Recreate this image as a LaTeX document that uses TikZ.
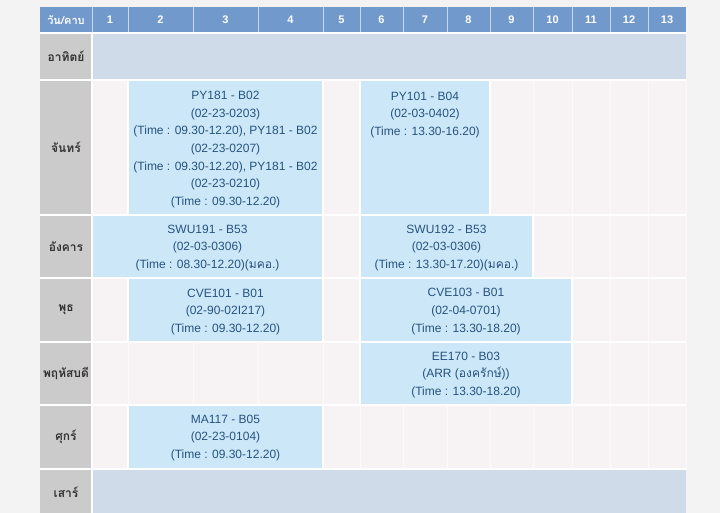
\documentclass[tikz,border=0pt]{standalone}
\usepackage{fontspec}
\setmainfont{Liberation Sans}
\newfontfamily\thai[Script=Thai]{Loma}
\definecolor{pagebg}{HTML}{F3F3F3}
\definecolor{cellbg}{HTML}{F7F3F5}
\definecolor{hdr}{HTML}{7199CB}
\definecolor{hdrline}{HTML}{C9D7EC}
\definecolor{daygray}{HTML}{CBCBCB}
\definecolor{weekend}{HTML}{CFDBE8}
\definecolor{block}{HTML}{CCE8F8}
\definecolor{blocktxt}{HTML}{27527F}
\definecolor{daytxt}{HTML}{333333}
\tikzset{
  hd/.style={text=white, font=\bfseries\fontsize{11}{13}\selectfont, inner sep=0pt},
  dayl/.style={text=daytxt, font=\thai\bfseries\fontsize{12}{14}\selectfont, inner sep=0pt},
  blk/.style={text=blocktxt, align=center, font=\fontsize{12}{17.7}\selectfont, inner sep=0pt},
  blockfill/.style={fill=block, draw=white, line width=1.2pt},
  gridline/.style={draw=white, line width=1.2pt},
  faint/.style={draw=white, draw opacity=0.5, line width=0.6pt}
}
\begin{document}
\begin{tikzpicture}[x=1pt,y=-1pt]
\useasboundingbox (0,0) rectangle (720,513);
\fill[pagebg] (0,0) rectangle (720,513);
% header
\fill[hdr] (40,7) rectangle (686,33);
\foreach \x in {92,128,193,258,323,360,403,447,490,533,572,610,648}
  \draw[hdrline, line width=0.9pt] (\x,7) -- (\x,33);
% day column
\fill[daygray] (40,33) rectangle (92,520);
% body
\fill[cellbg] (92,80) rectangle (686,469);
\foreach \x in {128,193,258,323,360,403,447,490,533,572,610,648,686}
  \draw[faint] (\x,80) -- (\x,469);
% weekends
\fill[weekend] (92,33) rectangle (686,80);
\fill[weekend] (92,469) rectangle (686,520);
% blocks
\path[blockfill] (128,80) rectangle (323,215);
\path[blockfill] (360,80) rectangle (490,215);
\path[blockfill] (92,215) rectangle (323,278);
\path[blockfill] (360,215) rectangle (533,278);
\path[blockfill] (128,278) rectangle (323,342);
\path[blockfill] (360,278) rectangle (572,342);
\path[blockfill] (360,342) rectangle (572,405);
\path[blockfill] (128,405) rectangle (323,469);
% grid lines
\foreach \y in {33,80,215,278,342,405,469}
  \draw[gridline] (40,\y) -- (686,\y);
\draw[gridline] (92,33) -- (92,520);
% header texts
\node[hd] (h0) at (66,20) {\thai วัน/คาบ};
\foreach \n/\x in {1/110,2/160.5,3/225.5,4/290.5,5/341.5,6/381.5,7/425,8/468.5,9/511.5,10/552.5,11/591,12/629,13/667}
  \node[hd] (h\n) at (\x,20) {\n};
% day labels
\node[dayl] (d0) at (66,56.5) {อาทิตย์};
\node[dayl] (d1) at (66,147.5) {จันทร์};
\node[dayl] (d2) at (66,246.5) {อังคาร};
\node[dayl] (d3) at (66,310) {พุธ};
\node[dayl] (d4) at (66,373.5) {พฤหัสบดี};
\node[dayl] (d5) at (66,437) {ศุกร์};
\node[dayl] (d6) at (66,492) {เสาร์};
% block texts
\node[blk] (py181) at (225.5,149.5) {PY181 - B02\\(02-23-0203)\\(Time : 09.30-12.20), PY181 - B02\\(02-23-0207)\\(Time : 09.30-12.20), PY181 - B02\\(02-23-0210)\\(Time : 09.30-12.20)};
\node[blk, anchor=north] (py101) at (425,91.7) {PY101 - B04\\(02-03-0402)\\(Time : 13.30-16.20)};
\node[blk] (swu191) at (207.5,248) {SWU191 - B53\\(02-03-0306)\\(Time : 08.30-12.20)({\thai มคอ.})};
\node[blk] (swu192) at (446.5,248) {SWU192 - B53\\(02-03-0306)\\(Time : 13.30-17.20)({\thai มคอ.})};
\node[blk] (cve101) at (225.5,312) {CVE101 - B01\\(02-90-02I217)\\(Time : 09.30-12.20)};
\node[blk] (cve103) at (466,311.5) {CVE103 - B01\\(02-04-0701)\\(Time : 13.30-18.20)};
\node[blk] (ee170) at (466,375) {EE170 - B03\\(ARR ({\thai องครักษ์}))\\(Time : 13.30-18.20)};
\node[blk] (ma117) at (225.5,438) {MA117 - B05\\(02-23-0104)\\(Time : 09.30-12.20)};
\end{tikzpicture}
\end{document}
